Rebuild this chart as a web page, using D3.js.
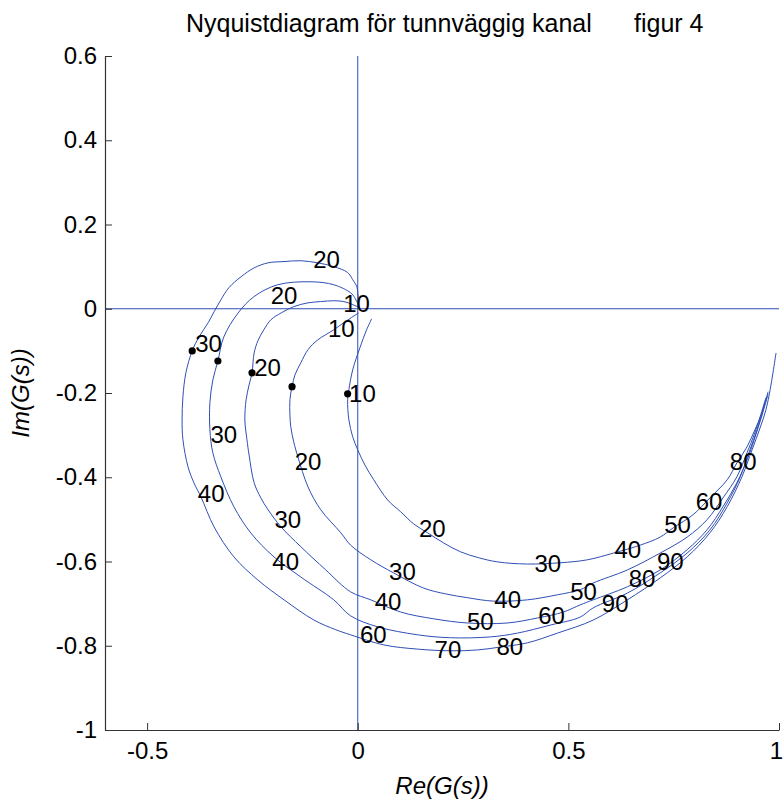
<!DOCTYPE html>
<html>
<head>
<meta charset="utf-8">
<script src="https://cdn.jsdelivr.net/npm/d3@7/dist/d3.min.js"></script>
<style>
  html, body { margin: 0; padding: 0; background: #fff; }
  svg { display: block; }
  text { font-family: "Liberation Sans", Arial, Helvetica, sans-serif; fill: #000; }
</style>
</head>
<body>
<svg id="chart" width="784" height="803"></svg>
<script>
// Nyquist curves Re/Im pairs, five cases from innermost (A) to outermost (E)
const curveA = [[0.033,-0.024],[0.021,-0.050],[0.005,-0.093],[-0.012,-0.145],[-0.021,-0.192],[-0.024,-0.216],[-0.021,-0.264],[-0.012,-0.304],[0.000,-0.335],[0.017,-0.371],[0.038,-0.406],[0.071,-0.454],[0.102,-0.482],[0.133,-0.511],[0.166,-0.532],[0.204,-0.556],[0.244,-0.577],[0.287,-0.591],[0.332,-0.601],[0.403,-0.606],[0.481,-0.603],[0.545,-0.596],[0.607,-0.580],[0.671,-0.561],[0.718,-0.542],[0.749,-0.520],[0.796,-0.489],[0.836,-0.449],[0.877,-0.406],[0.900,-0.366],[0.924,-0.328],[0.943,-0.287],[0.960,-0.247],[0.974,-0.197]];
const curveB = [[0.002,-0.010],[-0.009,-0.017],[-0.033,-0.033],[-0.057,-0.050],[-0.095,-0.074],[-0.118,-0.097],[-0.135,-0.128],[-0.149,-0.157],[-0.156,-0.185],[-0.161,-0.216],[-0.161,-0.252],[-0.159,-0.280],[-0.152,-0.316],[-0.142,-0.352],[-0.118,-0.423],[-0.088,-0.477],[-0.040,-0.532],[-0.017,-0.561],[0.031,-0.596],[0.085,-0.627],[0.156,-0.663],[0.209,-0.677],[0.261,-0.686],[0.322,-0.694],[0.403,-0.691],[0.474,-0.679],[0.528,-0.667],[0.559,-0.651],[0.640,-0.620],[0.718,-0.580],[0.782,-0.542],[0.829,-0.501],[0.867,-0.449],[0.900,-0.399],[0.924,-0.342],[0.941,-0.299],[0.955,-0.257],[0.969,-0.211]];
const curveC = [[0.005,0.002],[-0.012,0.010],[-0.033,0.017],[-0.057,0.019],[-0.088,0.017],[-0.118,0.014],[-0.152,0.005],[-0.182,-0.010],[-0.206,-0.026],[-0.223,-0.050],[-0.237,-0.076],[-0.246,-0.105],[-0.251,-0.152],[-0.258,-0.181],[-0.265,-0.216],[-0.268,-0.264],[-0.263,-0.311],[-0.258,-0.347],[-0.246,-0.413],[-0.230,-0.449],[-0.213,-0.477],[-0.182,-0.518],[-0.135,-0.565],[-0.076,-0.620],[-0.017,-0.672],[0.031,-0.691],[0.102,-0.720],[0.180,-0.736],[0.261,-0.746],[0.355,-0.746],[0.427,-0.734],[0.488,-0.720],[0.528,-0.703],[0.559,-0.691],[0.640,-0.660],[0.718,-0.620],[0.782,-0.572],[0.829,-0.525],[0.867,-0.470],[0.900,-0.413],[0.927,-0.352],[0.945,-0.299],[0.960,-0.252],[0.972,-0.209]];
const curveD = [[0.002,0.007],[-0.007,0.026],[-0.017,0.038],[-0.057,0.057],[-0.111,0.064],[-0.190,0.057],[-0.246,0.029],[-0.284,-0.010],[-0.318,-0.067],[-0.332,-0.124],[-0.344,-0.169],[-0.351,-0.223],[-0.351,-0.287],[-0.344,-0.342],[-0.325,-0.399],[-0.294,-0.470],[-0.254,-0.532],[-0.199,-0.589],[-0.135,-0.637],[-0.057,-0.691],[-0.017,-0.729],[0.047,-0.755],[0.142,-0.774],[0.220,-0.781],[0.315,-0.779],[0.379,-0.770],[0.457,-0.751],[0.528,-0.732],[0.559,-0.710],[0.640,-0.675],[0.718,-0.627],[0.782,-0.580],[0.836,-0.525],[0.877,-0.461],[0.908,-0.399],[0.931,-0.335],[0.948,-0.287],[0.962,-0.240],[0.974,-0.202]];
const curveE = [[0.002,0.021],[0.000,0.038],[-0.002,0.052],[-0.012,0.069],[-0.024,0.086],[-0.057,0.100],[-0.095,0.109],[-0.135,0.114],[-0.175,0.112],[-0.213,0.109],[-0.246,0.097],[-0.277,0.076],[-0.306,0.050],[-0.325,0.021],[-0.341,-0.007],[-0.355,-0.033],[-0.377,-0.067],[-0.393,-0.100],[-0.408,-0.152],[-0.415,-0.209],[-0.417,-0.264],[-0.415,-0.311],[-0.403,-0.375],[-0.389,-0.413],[-0.372,-0.447],[-0.341,-0.518],[-0.294,-0.589],[-0.237,-0.644],[-0.175,-0.691],[-0.104,-0.739],[-0.052,-0.762],[-0.017,-0.774],[0.062,-0.798],[0.142,-0.808],[0.220,-0.812],[0.284,-0.810],[0.339,-0.803],[0.403,-0.793],[0.474,-0.770],[0.559,-0.739],[0.640,-0.691],[0.718,-0.639],[0.782,-0.589],[0.836,-0.532],[0.877,-0.470],[0.912,-0.399],[0.936,-0.335],[0.955,-0.283],[0.969,-0.240],[0.979,-0.192],[0.986,-0.150],[0.993,-0.105]];

// marked points on each curve
const markers = [[-0.024,-0.202],[-0.156,-0.185],[-0.251,-0.152],[-0.332,-0.124],[-0.393,-0.100]];

// frequency annotations (text, Re, Im)
const freqLabels = [
  ["20",-0.074,0.118],["20",-0.175,0.032],["10",-0.003,0.012],["10",-0.039,-0.048],
  ["30",-0.354,-0.082],["20",-0.214,-0.139],["10",0.011,-0.200],
  ["30",-0.318,-0.299],["20",-0.118,-0.363],["40",-0.348,-0.438],["30",-0.166,-0.501],["40",-0.171,-0.600],
  ["20",0.177,-0.521],["30",0.106,-0.624],["30",0.451,-0.604],["40",0.072,-0.695],["40",0.356,-0.691],
  ["50",0.291,-0.743],["60",0.460,-0.728],["60",0.037,-0.774],["70",0.214,-0.808],["80",0.361,-0.802],
  ["40",0.641,-0.572],["50",0.759,-0.513],["60",0.834,-0.458],["80",0.915,-0.363],
  ["50",0.536,-0.671],["90",0.742,-0.600],["80",0.675,-0.640],["90",0.611,-0.699]
];

const xDomain = [-0.6, 1];
const yDomain = [-1, 0.6];
const xTicks = [-0.5, 0, 0.5, 1];
const yTicks = [-1, -0.8, -0.6, -0.4, -0.2, 0, 0.2, 0.4, 0.6];

const titleMain = "Nyquistdiagram för tunnväggig kanal";
const titleFig = "figur 4";
const xLabel = "Re(G(s))";
const yLabel = "Im(G(s))";

const svg = d3.select("#chart");
const plot = { left: 105, right: 779, top: 56, bottom: 730 };
const lineColor = "#2f4fb5";
const fs = 24;

const x = d3.scaleLinear().domain(xDomain).range([plot.left, plot.right]);
const y = d3.scaleLinear().domain(yDomain).range([plot.bottom, plot.top]);
const fmt = d => String(+(+d).toFixed(1));

// reference lines through the origin
svg.append("line")
  .attr("x1", x(xDomain[0])).attr("x2", x(xDomain[1]))
  .attr("y1", y(0)).attr("y2", y(0))
  .attr("stroke", lineColor).attr("stroke-width", 1);
svg.append("line")
  .attr("x1", x(0)).attr("x2", x(0))
  .attr("y1", y(yDomain[0])).attr("y2", y(yDomain[1]))
  .attr("stroke", lineColor).attr("stroke-width", 1);

// axes with inward ticks
const gx = svg.append("g")
  .attr("transform", `translate(0,${plot.bottom})`)
  .call(d3.axisBottom(x).tickValues(xTicks).tickFormat(fmt).tickSize(-7).tickSizeOuter(0).tickPadding(12));
const gy = svg.append("g")
  .attr("transform", `translate(${plot.left},0)`)
  .call(d3.axisLeft(y).tickValues(yTicks).tickFormat(fmt).tickSize(-7).tickSizeOuter(0).tickPadding(8));
[gx, gy].forEach(g => {
  g.select(".domain").attr("stroke", "#333").attr("stroke-width", 1.2);
  g.selectAll(".tick line").attr("stroke", "#333");
  g.selectAll(".tick text").attr("font-size", fs).attr("fill", "#000")
    .style("font-family", '"Liberation Sans", Arial, sans-serif');
});
// keep the last x tick label inside the canvas
gx.selectAll(".tick text").filter(d => d === xTicks[xTicks.length - 1]).attr("dx", -3);

// curves
const line = d3.line().x(d => x(d[0])).y(d => y(d[1])).curve(d3.curveCatmullRom.alpha(0.5));
[curveA, curveB, curveC, curveD, curveE].forEach(c => {
  svg.append("path").attr("d", line(c))
    .attr("fill", "none").attr("stroke", lineColor).attr("stroke-width", 1)
    .attr("stroke-linejoin", "round");
});

// markers
svg.selectAll("circle.mk").data(markers).join("circle")
  .attr("class", "mk")
  .attr("cx", d => x(d[0])).attr("cy", d => y(d[1])).attr("r", 3.6)
  .attr("fill", "#000");

// frequency annotations
svg.selectAll("text.fq").data(freqLabels).join("text")
  .attr("class", "fq")
  .attr("x", d => x(d[1])).attr("y", d => y(d[2]))
  .attr("text-anchor", "middle").attr("dominant-baseline", "central")
  .attr("font-size", fs)
  .text(d => d[0]);

// title
svg.append("text").attr("x", 186).attr("y", 32).attr("font-size", 25).text(titleMain);
svg.append("text").attr("x", 634).attr("y", 32).attr("font-size", 25).text(titleFig);

// axis labels
svg.append("text")
  .attr("x", (plot.left + plot.right) / 2).attr("y", 794)
  .attr("text-anchor", "middle").attr("font-size", fs).attr("font-style", "italic")
  .text(xLabel);
svg.append("text")
  .attr("transform", `translate(29,${(plot.top + plot.bottom) / 2}) rotate(-90)`)
  .attr("text-anchor", "middle").attr("font-size", fs).attr("font-style", "italic")
  .text(yLabel);
</script>
</body>
</html>
